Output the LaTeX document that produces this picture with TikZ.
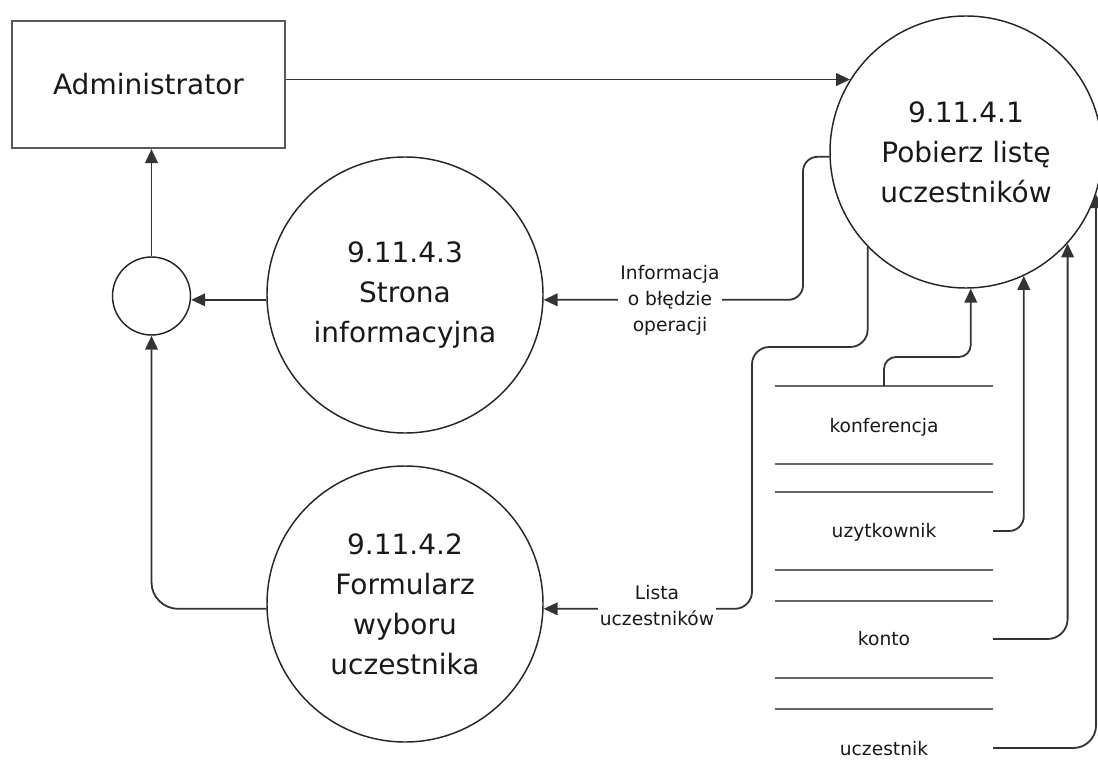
\documentclass[tikz,border=0pt]{standalone}
\usepackage{fontspec}
\setmainfont{DejaVu Sans}
\usetikzlibrary{arrows.meta}
\begin{document}
\begin{tikzpicture}[x=0.75pt,y=-0.75pt,
  every node/.style={text=black!90},
  maintext/.style={font=\fontsize{21}{30}\selectfont, align=center},
  lab/.style={font=\fontsize{14}{19.5}\selectfont, align=center},
  box/.style={rectangle, draw=black!65, line width=1.6pt, maintext,
    minimum width={273*0.75pt}, minimum height={127*0.75pt}, inner sep=0pt},
  proc/.style={circle, draw=black!85, line width=1.1pt, maintext, inner sep=0pt},
  junction/.style={circle, draw=black!85, line width=1.1pt, inner sep=0pt,
    minimum size={78*0.75pt}},
  storeline/.style={draw=black!60, line width=1.7pt},
  flow/.style={draw=black!80, line width=1.35pt},
  arr/.style={flow, -{Triangle[length=10.5pt,width=9.5pt]}},
  flowlabel/.style={lab, fill=white, inner sep=1.5pt}
]
\useasboundingbox (0,0) rectangle (1098,784);

% nodes
\node[box] (admin) at (148.5,84.5) {Administrator};
\node[proc, minimum size={272*0.75pt}] (c1) at (966,152) {9.11.4.1\\Pobierz listę\\uczestników};
\node[proc, minimum size={276*0.75pt}] (c3) at (405,295) {9.11.4.3\\Strona\\informacyjna};
\node[proc, minimum size={276*0.75pt}] (c2) at (405,604) {9.11.4.2\\Formularz\\wyboru\\uczestnika};
\node[junction] (sm) at (151.5,296) {};

% data stores
\draw[storeline] (775,386) -- (993,386);
\draw[storeline] (775,464) -- (993,464);
\draw[storeline] (775,492) -- (993,492);
\draw[storeline] (775,570) -- (993,570);
\draw[storeline] (775,601) -- (993,601);
\draw[storeline] (775,678) -- (993,678);
\draw[storeline] (775,709) -- (993,709);
\node[lab, anchor=base] (s1) at (884,432) {konferencja};
\node[lab, anchor=base] (s2) at (884,537) {uzytkownik};
\node[lab, anchor=base] (s3) at (884,645) {konto};
\node[lab, anchor=base] (s4) at (884,755) {uczestnik};
\coordinate (k1) at (884,386);
\coordinate (u1) at (993,531);
\coordinate (t1) at (993,639);
\coordinate (e1) at (993,748);

% connectors
\draw[arr] (c1.148 -| admin.east) -- (c1.148);
\draw[arr, rounded corners=11pt] (c1.182) -- (c1.182 -| 803,0) |- (c3.-2.5);
\draw[arr, rounded corners=13pt] (c1.224) |- (752,347) |- (c2.-2);
\draw[arr, rounded corners=9pt] (k1) -- (k1 |- 0,357) -| (c1.-88);
\draw[arr, rounded corners=11pt] (u1) -| (c1.-65.3);
\draw[arr, rounded corners=15pt] (t1) -| (c1.-42);
\draw[arr, rounded corners=17pt] (e1) -| (c1.-18.5);
\draw[arr] (c3.182.5) -- (c3.182.5 -| sm.east);
\draw[arr] (sm.north) -- (sm.north |- admin.south);
\draw[arr, rounded corners=20pt] (c2.182.5) -| (sm.south);

% flow labels
\node[flowlabel] (l1) at (670,300) {Informacja\\o błędzie\\operacji};
\node[flowlabel] (l2) at (657,606) {Lista\\uczestników};
\end{tikzpicture}
\end{document}
